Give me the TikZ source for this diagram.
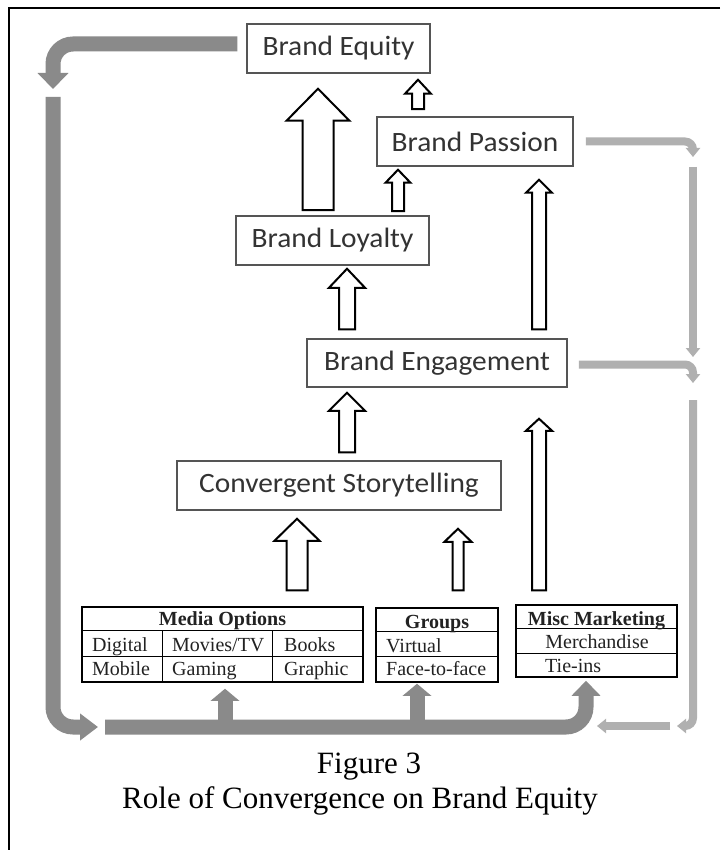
\documentclass[tikz,border=0pt]{standalone}
\usepackage{fontspec}
\setmainfont{Liberation Serif}
\newfontfamily\calfont[FakeStretch=1.05]{Carlito}
\usetikzlibrary{arrows.meta,calc}
\definecolor{boxtext}{HTML}{333333}
\definecolor{boxline}{HTML}{555555}
\definecolor{darkflow}{HTML}{8A8A8A}
\definecolor{lightflow}{HTML}{B0B0B0}
\definecolor{tabtext}{HTML}{222222}
\tikzset{
  lbl/.style={draw=boxline, line width=1.5pt, fill=white, text=boxtext,
    font=\calfont\fontsize{28}{30}\selectfont, inner sep=0pt, minimum height=49pt},
  tbl/.style={draw=black, line width=1.5pt, inner sep=0pt},
  tblline/.style={draw=black, line width=1.5pt},
  tt/.style={text=tabtext, font=\fontsize{20}{22}\selectfont, inner sep=0pt},
  blockarr/.style={draw=black, line width=2pt, fill=white, line join=miter},
  darkpath/.style={draw=darkflow, line width=15pt, rounded corners=20pt,
    -{Triangle[length=16pt,width=30pt]}},
  lightpath/.style={draw=lightflow, line width=8pt, rounded corners=8pt,
    -{Triangle[length=9pt,width=14pt]}},
  captionfont/.style={font=\fontsize{31}{34}\selectfont, inner sep=0pt}
}
\newcommand\blockup[5]{%
  \draw[blockarr] let \p1=#1, \p2=#2 in
    (\x1-#3pt,\y1) -- (\x1-#3pt,\y2-#5pt) -- (\x1-#4pt,\y2-#5pt) -- (\x1,\y2)
    -- (\x1+#4pt,\y2-#5pt) -- (\x1+#3pt,\y2-#5pt) -- (\x1+#3pt,\y1) -- cycle;}
\begin{document}
\begin{tikzpicture}[x=1pt,y=-1pt]
\useasboundingbox (0,0) rectangle (720,850);
\fill[white] (0,0) rectangle (720,850);
% frame
\draw[line width=2pt] (720,8) -| (9,850);

% main boxes
\node[lbl, minimum width=183pt] (equity) at (338.5,48.5) {Brand Equity};
\node[lbl, minimum width=196pt] (passion) at (475,141.5) {Brand Passion};
\node[lbl, minimum width=193pt] (loyalty) at (332.5,240.5) {Brand Loyalty};
\node[lbl, minimum width=260pt, minimum height=48pt] (engage) at (437,363) {Brand Engagement};
\node[lbl, minimum width=324pt] (story) at (339,485.5) {Convergent Storytelling};

% tables
\node[tbl, minimum width=281pt, minimum height=75pt] (media) at (222.5,644.5) {};
\draw[tblline] ($(media.north west)+(0,24)$) -- ($(media.north east)+(0,24)$);
\draw[tblline] ($(media.north west)+(0,50)$) -- ($(media.north east)+(0,50)$);
\draw[tblline] ($(media.north west)+(81,24)$) -- ($(media.south west)+(81,0)$);
\draw[tblline] ($(media.north west)+(191,24)$) -- ($(media.south west)+(191,0)$);
\node[tt, anchor=base] (mh) at (222.5,625) {\textbf{Media Options}};
\node[tt, anchor=base west] (m11) at (92,651) {Digital};
\node[tt, anchor=base west] (m12) at (172,651) {Movies/TV};
\node[tt, anchor=base west] (m13) at (284,651) {Books};
\node[tt, anchor=base west] (m21) at (92,675) {Mobile};
\node[tt, anchor=base west] (m22) at (172,675) {Gaming};
\node[tt, anchor=base west] (m23) at (284,675) {Graphic};

\node[tbl, minimum width=122pt, minimum height=74pt] (groups) at (437,645) {};
\draw[tblline] ($(groups.north west)+(0,24)$) -- ($(groups.north east)+(0,24)$);
\draw[tblline] ($(groups.north west)+(0,49)$) -- ($(groups.north east)+(0,49)$);
\node[tt, anchor=base] (gh) at (437,628) {\textbf{Groups}};
\node[tt, anchor=base west] (g1) at (386,652) {Virtual};
\node[tt, anchor=base west] (g2) at (386,675) {Face-to-face};

\node[tbl, minimum width=161pt, minimum height=72pt] (misc) at (596.5,641) {};
\draw[tblline] ($(misc.north west)+(0,24)$) -- ($(misc.north east)+(0,24)$);
\draw[tblline] ($(misc.north west)+(0,49)$) -- ($(misc.north east)+(0,49)$);
\node[tt, anchor=base] (mmh) at (596.5,625) {\textbf{Misc Marketing}};
\node[tt, anchor=base] (mm1) at (597,648) {Merchandise};
\node[tt, anchor=base west] (mm2) at (545,672) {Tie-ins};

% block arrow x positions
\coordinate (ax1) at (318,0);
\coordinate (ax2) at (418,0);
\coordinate (ax3) at (398,0);
\coordinate (ax4) at (539,0);
\coordinate (ax5) at (347,0);
\coordinate (ax6) at (297,0);
\coordinate (ax7) at (458,0);

\blockup{($(loyalty.north -| ax1)+(0,-5)$)}{($(equity.south -| ax1)+(0,15)$)}{15.5}{31.5}{32}
\blockup{($(passion.north -| ax2)+(0,-7)$)}{($(equity.south -| ax2)+(0,6)$)}{6}{13}{14}
\blockup{($(loyalty.north -| ax3)+(0,-4)$)}{($(passion.south -| ax3)+(0,3)$)}{6}{12.5}{13}
\blockup{($(engage.north -| ax4)+(0,-9)$)}{($(passion.south -| ax4)+(0,13)$)}{7}{13}{13}
\blockup{($(engage.north -| ax5)+(0,-9)$)}{($(loyalty.south -| ax5)+(0,3)$)}{8}{18}{19}
\blockup{($(story.north -| ax5)+(0,-8)$)}{($(engage.south -| ax5)+(0,5)$)}{8}{18}{18}
\blockup{($(media.north -| ax6)+(0,-16)$)}{($(story.south -| ax6)+(0,8)$)}{10.5}{22.5}{22}
\blockup{($(groups.north -| ax7)+(0,-17)$)}{($(story.south -| ax7)+(0,18)$)}{5.5}{13.5}{13}
\blockup{($(misc.north -| ax4)+(0,-14)$)}{($(engage.south -| ax4)+(0,31)$)}{7}{13}{12}

% dark feedback flow
\coordinate (a1) at (53,89);
\draw[darkpath] ([xshift=-9pt,yshift=4.5pt]equity.west) -| (a1);
\coordinate (a2s) at (53,97);
\coordinate (a2e) at (98,727);
\draw[darkpath, -{Triangle[length=18pt,width=26pt]}] (a2s) |- (a2e);
\coordinate (a3s) at (105,727);
\draw[darkpath, -{Triangle[length=15pt,width=28pt]}] (a3s) -| ($(misc.south)+(-10.5,3)$);
\coordinate (b1) at (225,727);
\draw[darkpath, -{Triangle[length=12pt,width=28pt]}] (b1) -- ($(b1 |- media.south)+(0,6)$);
\coordinate (b2) at (417,727);
\draw[darkpath, -{Triangle[length=12pt,width=28pt]}] (b2) -- ($(b2 |- groups.south)+(0,1)$);

% light feedback flow
\coordinate (c1) at (693,157);
\draw[lightpath] ([xshift=12pt]passion.east) -| (c1);
\coordinate (c2s) at (693,167);
\coordinate (c2e) at (693,357);
\draw[lightpath] (c2s) -- (c2e);
\coordinate (c3) at (693,383);
\draw[lightpath] ([xshift=11pt,yshift=-1.5pt]engage.east) -| (c3);
\coordinate (c4s) at (693,400);
\coordinate (c4e) at (677,726);
\draw[lightpath] (c4s) |- (c4e);
\coordinate (c5s) at (670,726);
\coordinate (c5e) at (597,726);
\draw[lightpath] (c5s) -- (c5e);

% caption
\node[captionfont, anchor=base] (fig) at (369,773) {Figure 3};
\node[captionfont, anchor=base] (cap) at (360,808) {Role of Convergence on Brand Equity};
\end{tikzpicture}
\end{document}
